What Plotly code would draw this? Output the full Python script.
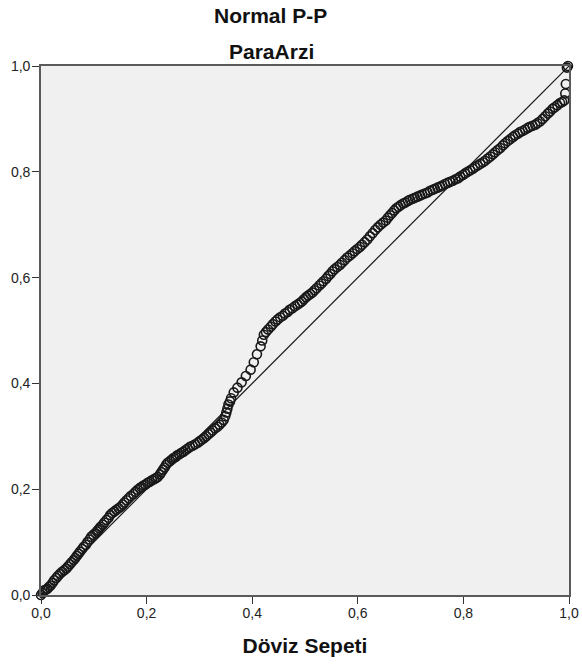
import plotly.graph_objects as go

# Observed cumulative probability (Döviz Sepeti, x) vs expected cumulative probability (y),
# read off the reference picture
obs_x = [0.000, 0.003, 0.006, 0.009, 0.012, 0.015, 0.018, 0.022, 0.025, 0.029,
         0.032, 0.036, 0.040, 0.044, 0.048, 0.051, 0.055, 0.058, 0.062, 0.065,
         0.068, 0.071, 0.074, 0.078, 0.081, 0.085, 0.088, 0.092, 0.095, 0.099,
         0.103, 0.106, 0.108, 0.111, 0.113, 0.117, 0.120, 0.124, 0.128, 0.131,
         0.135, 0.139, 0.143, 0.147, 0.151, 0.155, 0.158, 0.162, 0.166, 0.170,
         0.175, 0.179, 0.183, 0.187, 0.190, 0.194, 0.198, 0.202, 0.206, 0.210,
         0.214, 0.218, 0.221, 0.225, 0.228, 0.231, 0.234, 0.237, 0.240, 0.244,
         0.248, 0.251, 0.255, 0.258, 0.262, 0.266, 0.270, 0.274, 0.278, 0.282,
         0.287, 0.292, 0.297, 0.301, 0.305, 0.309, 0.313, 0.317, 0.321, 0.325,
         0.330, 0.334, 0.338, 0.342, 0.346, 0.349, 0.351, 0.353, 0.355, 0.358,
         0.360, 0.365, 0.372, 0.380, 0.388, 0.397, 0.403, 0.409, 0.416, 0.419,
         0.422, 0.426, 0.430, 0.435, 0.439, 0.444, 0.448, 0.453, 0.458, 0.462,
         0.467, 0.471, 0.476, 0.481, 0.486, 0.490, 0.494, 0.498, 0.502, 0.506,
         0.510, 0.514, 0.518, 0.522, 0.527, 0.531, 0.535, 0.540, 0.544, 0.548,
         0.552, 0.556, 0.561, 0.566, 0.570, 0.575, 0.580, 0.585, 0.590, 0.594,
         0.599, 0.604, 0.608, 0.613, 0.618, 0.623, 0.628, 0.633, 0.638, 0.643,
         0.648, 0.653, 0.657, 0.661, 0.665, 0.669, 0.673, 0.677, 0.681, 0.686,
         0.690, 0.695, 0.699, 0.704, 0.708, 0.713, 0.718, 0.722, 0.727, 0.732,
         0.737, 0.742, 0.746, 0.751, 0.756, 0.760, 0.765, 0.770, 0.775, 0.780,
         0.785, 0.790, 0.794, 0.799, 0.803, 0.808, 0.813, 0.818, 0.822, 0.827,
         0.832, 0.837, 0.841, 0.846, 0.851, 0.856, 0.860, 0.865, 0.870, 0.875,
         0.879, 0.884, 0.889, 0.894, 0.898, 0.903, 0.907, 0.912, 0.917, 0.922,
         0.926, 0.931, 0.936, 0.940, 0.945, 0.950, 0.955, 0.960, 0.964, 0.969,
         0.973, 0.978, 0.983, 0.987, 0.991, 0.993, 0.994, 0.996, 0.998]
obs_y = [0.000, 0.004, 0.009, 0.010, 0.012, 0.015, 0.018, 0.023, 0.028, 0.032,
         0.036, 0.040, 0.044, 0.047, 0.050, 0.054, 0.058, 0.062, 0.066, 0.070,
         0.074, 0.078, 0.082, 0.087, 0.091, 0.095, 0.100, 0.105, 0.110, 0.114,
         0.117, 0.120, 0.123, 0.126, 0.129, 0.133, 0.137, 0.142, 0.146, 0.151,
         0.155, 0.158, 0.161, 0.164, 0.167, 0.171, 0.175, 0.179, 0.183, 0.187,
         0.191, 0.195, 0.199, 0.202, 0.204, 0.207, 0.209, 0.212, 0.214, 0.217,
         0.219, 0.221, 0.223, 0.228, 0.232, 0.237, 0.241, 0.246, 0.250, 0.253,
         0.256, 0.259, 0.261, 0.264, 0.266, 0.269, 0.271, 0.274, 0.277, 0.280,
         0.282, 0.285, 0.288, 0.291, 0.294, 0.297, 0.300, 0.304, 0.307, 0.311,
         0.315, 0.318, 0.322, 0.326, 0.331, 0.338, 0.345, 0.352, 0.360, 0.366,
         0.372, 0.383, 0.392, 0.402, 0.414, 0.426, 0.440, 0.455, 0.470, 0.481,
         0.492, 0.497, 0.502, 0.507, 0.512, 0.517, 0.521, 0.525, 0.528, 0.532,
         0.535, 0.539, 0.542, 0.546, 0.549, 0.552, 0.555, 0.559, 0.563, 0.566,
         0.569, 0.572, 0.576, 0.580, 0.585, 0.589, 0.593, 0.598, 0.603, 0.607,
         0.612, 0.616, 0.620, 0.624, 0.628, 0.633, 0.638, 0.642, 0.646, 0.650,
         0.654, 0.658, 0.662, 0.667, 0.672, 0.678, 0.684, 0.690, 0.695, 0.700,
         0.704, 0.708, 0.713, 0.718, 0.722, 0.727, 0.731, 0.734, 0.737, 0.740,
         0.742, 0.745, 0.747, 0.749, 0.751, 0.753, 0.755, 0.757, 0.759, 0.761,
         0.764, 0.766, 0.768, 0.770, 0.772, 0.774, 0.777, 0.779, 0.781, 0.783,
         0.786, 0.788, 0.791, 0.794, 0.797, 0.800, 0.803, 0.806, 0.809, 0.812,
         0.815, 0.818, 0.821, 0.825, 0.829, 0.833, 0.837, 0.841, 0.845, 0.850,
         0.854, 0.858, 0.862, 0.866, 0.869, 0.872, 0.875, 0.877, 0.880, 0.883,
         0.885, 0.887, 0.889, 0.892, 0.895, 0.900, 0.905, 0.910, 0.914, 0.919,
         0.922, 0.926, 0.930, 0.932, 0.935, 0.948, 0.966, 0.997, 1.000]

ref_x = [0.0, 1.0]
ref_y = [0.0, 1.0]

tick_vals = [0.0, 0.2, 0.4, 0.6, 0.8, 1.0]
tick_text = ["0,0", "0,2", "0,4", "0,6", "0,8", "1,0"]

FONT = "Liberation Sans, Arial, sans-serif"

fig = go.Figure()
fig.add_trace(go.Scatter(x=ref_x, y=ref_y, mode="lines",
                         line=dict(color="#1a1a1a", width=1.2),
                         hoverinfo="skip", showlegend=False))
fig.add_trace(go.Scatter(x=obs_x, y=obs_y, mode="markers",
                         marker=dict(symbol="circle-open", size=9, color="#181818",
                                     line=dict(color="#181818", width=1.6)),
                         cliponaxis=False, showlegend=False))

axis_common = dict(range=[0, 1], tickvals=tick_vals, ticktext=tick_text,
                   showgrid=False, zeroline=False, showline=True, mirror=True,
                   linecolor="#5a5a5a", linewidth=1.6, automargin=False,
                   ticks="outside", ticklen=7, tickcolor="#333", tickwidth=1.4,
                   tickfont=dict(family=FONT, size=14, color="#222"))

fig.update_layout(
    width=582, height=666,
    margin=dict(l=41, r=13, t=66, b=71, autoexpand=False),
    paper_bgcolor="white", plot_bgcolor="#F0F0F0",
    font=dict(family=FONT, color="#111"),
    xaxis=dict(**axis_common, ticklabelstandoff=-3,
               title=dict(text="<b>Döviz Sepeti</b>",
                          font=dict(family=FONT, size=21, color="#111"), standoff=19)),
    yaxis=dict(**axis_common, ticklabelstandoff=-1),
    annotations=[
        dict(text="<b>Normal P-P</b>", x=0.434, y=1.0964, xref="paper", yref="paper",
             xanchor="center", yanchor="middle", showarrow=False,
             font=dict(family=FONT, size=21, color="#111")),
        dict(text="<b>ParaArzi</b>", x=0.437, y=1.0265, xref="paper", yref="paper",
             xanchor="center", yanchor="middle", showarrow=False,
             font=dict(family=FONT, size=21, color="#111")),
    ],
)

# remove the browser's default 8px page margin so the figure fills the window exactly
fig.write_html("out.html", config={"displayModeBar": False},
               post_script="document.body.style.margin='0px';")
